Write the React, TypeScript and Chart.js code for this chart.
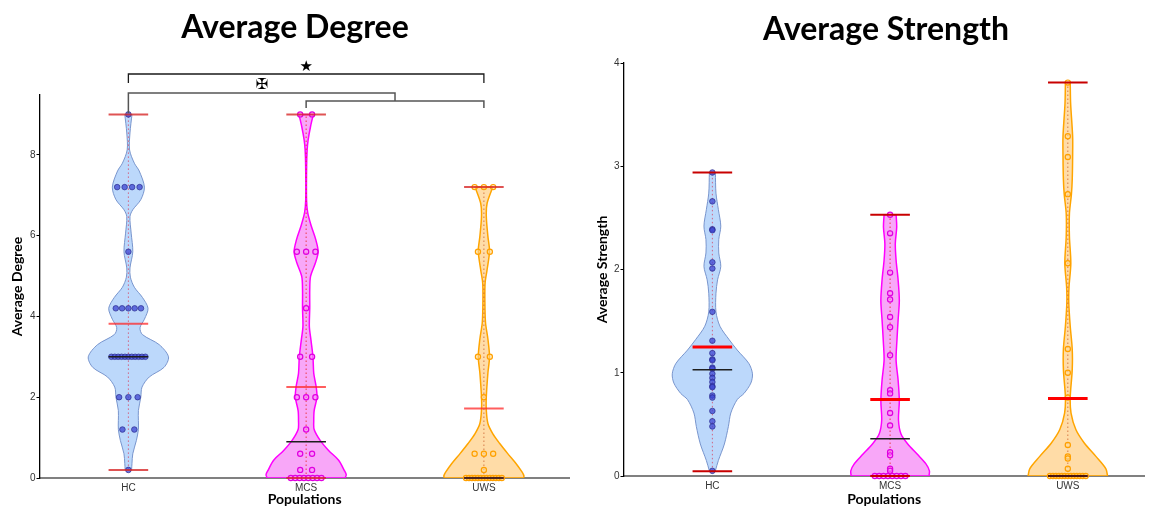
import React, { useEffect, useRef } from 'react';
import { Chart, registerables } from 'chart.js';

Chart.register(...registerables);

// ---------------- data ----------------
const categories = ['HC', 'MCS', 'UWS'];
const degreeTicks = [0, 2, 4, 6, 8];
const strengthTicks = [0, 1, 2, 3, 4];

const degreeHC = [9, 7.2, 7.2, 7.2, 7.2, 5.6, 4.2, 4.2, 4.2, 4.2, 4.2, 3, 3, 3, 3, 3, 3, 3, 3, 3, 3, 3, 2, 2, 2, 1.2, 1.2, 0.2];
const degreeMCS = [9, 9, 5.6, 5.6, 5.6, 4.2, 3, 3, 2, 2, 2, 1.2, 0.6, 0.6, 0.2, 0.2, 0, 0, 0, 0, 0, 0, 0, 0];
const degreeUWS = [7.2, 7.2, 7.2, 5.6, 5.6, 3, 3, 2, 0.6, 0.6, 0.6, 0.2, 0, 0, 0, 0, 0, 0, 0, 0, 0, 0, 0, 0, 0];

const strengthHC = [2.94, 2.66, 2.39, 2.38, 2.07, 2.01, 1.59, 1.31, 1.19, 1.13, 1.12, 1.05, 1.04, 0.99, 0.95, 0.91, 0.87, 0.86, 0.78, 0.76, 0.63, 0.53, 0.48, 0.05];
const strengthMCS = [2.53, 2.35, 1.97, 1.77, 1.71, 1.54, 1.44, 1.17, 0.83, 0.8, 0.61, 0.49, 0.23, 0.2, 0.07, 0.05, 0, 0, 0, 0, 0, 0, 0, 0];
const strengthUWS = [3.81, 3.29, 3.09, 2.73, 2.06, 1.23, 1.0, 0.76, 0.3, 0.19, 0.17, 0.07, 0, 0, 0, 0, 0, 0, 0, 0, 0, 0, 0, 0, 0];

// summary lines: [HC, MCS, UWS]
const degreeMax = [9, 9, 7.2];
const degreeMin = [0.2, 0, 0];
const degreeMean = [3.82, 2.25, 1.72];
const degreeMedian = [3.0, 0.9, 0];
const strengthMax = [2.94, 2.53, 3.81];
const strengthMin = [0.045, 0, 0];
const strengthMean = [1.25, 0.74, 0.75];
const strengthMedian = [1.03, 0.36, 0];

// violin density profiles (relative width), top to bottom
const degreeHCLevels = [9.0, 8.54, 8.12, 7.79, 7.6, 7.2, 6.89, 6.64, 6.47, 6.06, 5.6, 5.2, 4.97, 4.72, 4.47, 4.2, 3.93, 3.72, 3.55, 3.3, 3.0, 2.74, 2.5, 2.25, 2.0, 1.67, 1.42, 1.2, 0.93, 0.6, 0.36, 0.2];
const degreeHCDensity = [0.09, 0.04, 0.03, 0.15, 0.27, 0.4, 0.31, 0.11, 0.04, 0.07, 0.11, 0.04, 0.05, 0.15, 0.35, 0.49, 0.4, 0.29, 0.35, 0.77, 1.0, 0.89, 0.52, 0.34, 0.31, 0.25, 0.25, 0.25, 0.2, 0.11, 0.09, 0.08];
const degreeMCSLevels = [9.0, 8.7, 8.37, 8.12, 7.71, 6.89, 6.56, 6.23, 5.9, 5.6, 5.32, 4.99, 4.66, 4.2, 3.75, 3.42, 3.0, 2.59, 2.26, 2.0, 1.67, 1.42, 1.2, 0.93, 0.68, 0.44, 0.19, 0.08, 0.0];
const degreeMCSDensity = [0.18, 0.11, 0.05, 0.025, 0.012, 0.01, 0.04, 0.13, 0.24, 0.3, 0.23, 0.11, 0.09, 0.09, 0.08, 0.12, 0.17, 0.19, 0.25, 0.27, 0.2, 0.19, 0.2, 0.35, 0.56, 0.81, 0.95, 1.0, 0.97];
const degreeUWSLevels = [7.2, 6.8, 6.48, 5.98, 5.61, 5.16, 4.83, 4.34, 3.85, 3.44, 3.0, 2.6, 2.0, 1.68, 1.35, 1.1, 0.86, 0.61, 0.36, 0.15, 0.05, 0.0];
const degreeUWSDensity = [0.22, 0.08, 0.06, 0.1, 0.14, 0.08, 0.03, 0.025, 0.04, 0.1, 0.14, 0.1, 0.06, 0.06, 0.1, 0.22, 0.39, 0.59, 0.8, 0.95, 1.0, 0.98];

const strengthHCLevels = [2.94, 2.74, 2.58, 2.42, 2.29, 2.16, 2.03, 1.9, 1.77, 1.59, 1.45, 1.32, 1.22, 1.09, 0.99, 0.9, 0.8, 0.74, 0.61, 0.48, 0.31, 0.15, 0.05];
const strengthHCDensity = [0.075, 0.09, 0.15, 0.21, 0.16, 0.16, 0.21, 0.13, 0.09, 0.09, 0.19, 0.42, 0.62, 0.91, 1.0, 0.96, 0.79, 0.62, 0.46, 0.4, 0.3, 0.15, 0.075];
const strengthMCSLevels = [2.53, 2.41, 2.25, 2.09, 1.9, 1.7, 1.51, 1.31, 1.12, 0.93, 0.73, 0.54, 0.41, 0.31, 0.21, 0.12, 0.05, 0.0];
const strengthMCSDensity = [0.15, 0.165, 0.13, 0.15, 0.2, 0.23, 0.2, 0.17, 0.15, 0.2, 0.23, 0.21, 0.27, 0.44, 0.68, 0.89, 0.98, 0.97];
const strengthUWSLevels = [3.81, 3.61, 3.29, 3.09, 2.87, 2.73, 2.54, 2.32, 2.06, 1.83, 1.67, 1.45, 1.23, 1.03, 0.76, 0.61, 0.45, 0.32, 0.19, 0.07, 0.0];
const strengthUWSDensity = [0.06, 0.07, 0.12, 0.12, 0.11, 0.09, 0.04, 0.04, 0.075, 0.03, 0.025, 0.06, 0.11, 0.11, 0.06, 0.08, 0.2, 0.41, 0.7, 0.95, 0.99];

// significance annotations (left panel)
const bracketStart = [1, 1];
const bracketEnd = [3, 2.5];
const bracketLevel = [10.0, 9.53];
const bracketStartDrop = [9.78, 9.03];
const bracketEndDrop = [9.78, 9.33];
const bracketMark = ['★', '✠'];
const bracketMarkLevel = [10.17, 9.73];
const subBracket = [2, 3];
const subBracketLevel = 9.33;
const subBracketDrop = 9.16;

// ---------------- styling constants ----------------
const PX_PER_UNIT = 179.5;
const VIOLIN_HALF = 40.5 / PX_PER_UNIT;
const BAR_HALF = 20 / PX_PER_UNIT;

const groupStyle = [
  { fill: 'rgba(160,200,250,0.7)', edge: 'rgba(110,140,200,0.9)', edgeW: 1, whisker: 'rgba(215,60,90,0.75)', dotBg: 'rgba(60,70,210,0.75)', dotBorder: 'rgba(40,40,140,0.85)', dotR: 2.8, dotBW: 0.8 },
  { fill: 'rgba(245,130,245,0.7)', edge: '#ff00ff', edgeW: 1.5, whisker: 'rgba(230,40,40,0.85)', dotBg: 'rgba(255,140,255,0.55)', dotBorder: '#e000e0', dotR: 2.6, dotBW: 1.2 },
  { fill: 'rgba(255,205,130,0.7)', edge: '#ffa500', edgeW: 1.5, whisker: 'rgba(200,90,40,0.75)', dotBg: 'rgba(255,220,150,0.55)', dotBorder: '#ffa000', dotR: 2.6, dotBW: 1.2 },
];

// ---------------- helpers ----------------
function violinOutline(c: number, levels: number[], dens: number[]) {
  const n = levels.length;
  const pts: { x: number; y: number }[] = [];
  for (let i = n - 1; i >= 0; i--) pts.push({ x: c + VIOLIN_HALF * dens[i], y: levels[i] });
  pts.push({ x: c + VIOLIN_HALF * dens[0], y: levels[0] });
  pts.push({ x: c - VIOLIN_HALF * dens[0], y: levels[0] });
  for (let i = 0; i < n; i++) pts.push({ x: c - VIOLIN_HALF * dens[i], y: levels[i] });
  pts.push({ x: c - VIOLIN_HALF * dens[n - 1], y: levels[n - 1] });
  pts.push({ x: c + VIOLIN_HALF * dens[n - 1], y: levels[n - 1] });
  return pts;
}

function spreadPoints(values: number[], c: number) {
  const counts = new Map<number, number>();
  values.forEach((v) => counts.set(v, (counts.get(v) || 0) + 1));
  const seen = new Map<number, number>();
  return values.map((v) => {
    const n = counts.get(v) || 1;
    const k = seen.get(v) || 0;
    seen.set(v, k + 1);
    if (n === 1) return { x: c, y: v };
    const span = 12 + 9.7 * Math.log(n - 1);
    const step = span / (n - 1);
    return { x: c + ((k - (n - 1) / 2) * step) / PX_PER_UNIT, y: v };
  });
}

function hLine(c: number, v: number, color: string, width: number, order: number) {
  return {
    type: 'line',
    data: [{ x: c - BAR_HALF, y: v }, { x: c + BAR_HALF, y: v }],
    borderColor: color,
    borderWidth: width,
    pointRadius: 0,
    fill: false,
    order,
    clip: false,
  };
}

const titlePlugin = {
  id: 'panelTitle',
  afterDraw(chart: any, _args: any, opts: any) {
    const ctx = chart.ctx;
    ctx.save();
    ctx.font = 'bold 32px Lato';
    ctx.fillStyle = '#000';
    ctx.textAlign = 'center';
    ctx.textBaseline = 'middle';
    ctx.fillText(opts.text, opts.x, opts.y);
    ctx.restore();
  },
};

const sigPlugin = {
  id: 'sigBrackets',
  afterDraw(chart: any) {
    const { ctx } = chart;
    const xs = chart.scales.x;
    const ys = chart.scales.y;
    const px = (v: number) => xs.getPixelForValue(v);
    const py = (v: number) => ys.getPixelForValue(v);
    ctx.save();
    bracketStart.forEach((s, i) => {
      ctx.beginPath();
      ctx.strokeStyle = i === 0 ? '#1a1a1a' : '#555';
      ctx.lineWidth = i === 0 ? 1.3 : 1.5;
      ctx.moveTo(px(s), py(bracketStartDrop[i]));
      ctx.lineTo(px(s), py(bracketLevel[i]));
      ctx.lineTo(px(bracketEnd[i]), py(bracketLevel[i]));
      ctx.lineTo(px(bracketEnd[i]), py(bracketEndDrop[i]));
      ctx.stroke();
    });
    ctx.beginPath();
    ctx.strokeStyle = '#555';
    ctx.lineWidth = 1.5;
    ctx.moveTo(px(subBracket[0]), py(subBracketDrop));
    ctx.lineTo(px(subBracket[0]), py(subBracketLevel));
    ctx.lineTo(px(subBracket[1]), py(subBracketLevel));
    ctx.lineTo(px(subBracket[1]), py(subBracketDrop));
    ctx.stroke();
    ctx.fillStyle = '#000';
    ctx.textAlign = 'center';
    ctx.textBaseline = 'middle';
    bracketMark.forEach((m, i) => {
      ctx.font = i === 0 ? '15px "DejaVu Sans"' : 'bold 15px "DejaVu Sans"';
      const cx = (bracketStart[i] + bracketEnd[i]) / 2;
      ctx.fillText(m, px(cx), py(bracketMarkLevel[i]));
    });
    ctx.restore();
  },
};

type Group = { values: number[]; levels: number[]; dens: number[]; max: number; min: number; mean: number; median: number };

function buildConfig(p: any) {
  const datasets: any[] = [];
  p.groups.forEach((g: Group, i: number) => {
    const c = i + 1;
    const st = groupStyle[i];
    datasets.push({
      type: 'line',
      data: violinOutline(c, g.levels, g.dens),
      borderColor: st.edge,
      borderWidth: st.edgeW,
      backgroundColor: st.fill,
      fill: 'shape',
      tension: 0.3,
      pointRadius: 0,
      order: 6,
    });
    datasets.push({
      type: 'line',
      data: [{ x: c, y: g.min }, { x: c, y: g.max }],
      borderColor: st.whisker,
      borderWidth: 1,
      borderDash: [1.5, 2.5],
      pointRadius: 0,
      fill: false,
      order: 5,
    });
    datasets.push({
      type: 'scatter',
      data: spreadPoints(g.values, c),
      pointRadius: st.dotR,
      pointBackgroundColor: st.dotBg,
      pointBorderColor: st.dotBorder,
      pointBorderWidth: st.dotBW,
      order: 4,
      clip: false,
    });
    datasets.push(hLine(c, g.max, p.extremeColor, 2, 3));
    datasets.push(hLine(c, g.min, p.extremeColor, 2, 3));
    datasets.push(hLine(c, g.median, '#1e1e1e', 1.5, 2));
    datasets.push(hLine(c, g.mean, p.meanColor, p.meanWidth, 1));
  });

  const tickFont = { family: '"Liberation Sans", Arial, sans-serif', size: 10 };
  const titleFont = { family: 'Lato', size: 14, weight: 'bold' as const };

  return {
    type: 'scatter',
    data: { datasets },
    plugins: p.plugins,
    options: {
      responsive: false,
      animation: false,
      events: [],
      layout: { padding: { top: p.top, left: 0, right: 0, bottom: 0 } },
      plugins: {
        legend: { display: false },
        tooltip: { enabled: false },
        title: { display: false },
        panelTitle: { text: p.title, x: p.titleX, y: p.titleY },
      },
      scales: {
        x: {
          type: 'linear',
          min: 0.5,
          max: p.xMax,
          afterBuildTicks: (s: any) => {
            s.ticks = categories.map((_, k) => ({ value: k + 1 }));
          },
          afterFit: (s: any) => {
            s.height = p.xAxisHeight;
          },
          ticks: {
            callback: (v: any) => categories[Math.round(v) - 1] ?? '',
            font: tickFont,
            color: '#333',
            padding: 4,
            maxRotation: 0,
          },
          grid: { display: false, drawTicks: false },
          border: { display: true, color: '#808080', width: 2 },
          title: { display: true, text: 'Populations', font: titleFont, color: '#000', padding: { top: 0, bottom: 0 } },
        },
        y: {
          type: 'linear',
          min: 0,
          max: p.yMax,
          afterBuildTicks: (s: any) => {
            s.ticks = p.yTicks.map((v: number) => ({ value: v }));
          },
          afterFit: (s: any) => {
            s.width = p.yAxisWidth;
          },
          ticks: { font: tickFont, color: '#333', padding: 1 },
          grid: { display: true, drawOnChartArea: false, drawTicks: true, tickLength: 3, color: '#000', lineWidth: 1 },
          border: { display: true, color: '#000', width: 1.3 },
          title: { display: true, text: p.yTitle, font: titleFont, color: '#000', padding: { top: p.yTitlePad, bottom: 0 } },
        },
      },
    },
  };
}

const leftPanel = {
  title: 'Average Degree',
  titleX: 295,
  titleY: 28,
  yTitle: 'Average Degree',
  yTitlePad: 9,
  top: 95,
  yMax: 9.48,
  yTicks: degreeTicks,
  xMax: 0.5 + (575 - 39.5) / PX_PER_UNIT,
  yAxisWidth: 39.5,
  xAxisHeight: 30,
  extremeColor: 'rgba(215,40,40,0.8)',
  meanColor: 'rgba(255,40,40,0.75)',
  meanWidth: 2,
  plugins: [titlePlugin, sigPlugin],
  groups: [
    { values: degreeHC, levels: degreeHCLevels, dens: degreeHCDensity, max: degreeMax[0], min: degreeMin[0], mean: degreeMean[0], median: degreeMedian[0] },
    { values: degreeMCS, levels: degreeMCSLevels, dens: degreeMCSDensity, max: degreeMax[1], min: degreeMin[1], mean: degreeMean[1], median: degreeMedian[1] },
    { values: degreeUWS, levels: degreeUWSLevels, dens: degreeUWSDensity, max: degreeMax[2], min: degreeMin[2], mean: degreeMean[2], median: degreeMedian[2] },
  ],
};

const rightPanel = {
  title: 'Average Strength',
  titleX: 311,
  titleY: 30,
  yTitle: 'Average Strength',
  yTitlePad: 19,
  top: 63,
  yMax: 4,
  yTicks: strengthTicks,
  xMax: 0.5 + (575 - 48.5) / PX_PER_UNIT,
  yAxisWidth: 48.5,
  xAxisHeight: 32,
  extremeColor: '#c80000',
  meanColor: '#ff0000',
  meanWidth: 3,
  plugins: [titlePlugin],
  groups: [
    { values: strengthHC, levels: strengthHCLevels, dens: strengthHCDensity, max: strengthMax[0], min: strengthMin[0], mean: strengthMean[0], median: strengthMedian[0] },
    { values: strengthMCS, levels: strengthMCSLevels, dens: strengthMCSDensity, max: strengthMax[1], min: strengthMin[1], mean: strengthMean[1], median: strengthMedian[1] },
    { values: strengthUWS, levels: strengthUWSLevels, dens: strengthUWSDensity, max: strengthMax[2], min: strengthMin[2], mean: strengthMean[2], median: strengthMedian[2] },
  ],
};

export default function App() {
  const leftRef = useRef<HTMLCanvasElement>(null);
  const rightRef = useRef<HTMLCanvasElement>(null);

  useEffect(() => {
    if (!leftRef.current || !rightRef.current) return;
    const c1 = new Chart(leftRef.current, buildConfig(leftPanel) as any);
    const c2 = new Chart(rightRef.current, buildConfig(rightPanel) as any);
    return () => {
      c1.destroy();
      c2.destroy();
    };
  }, []);

  return (
    <div style={{ position: 'fixed', left: 0, top: 0, width: 1150, height: 508, background: '#fff', overflow: 'hidden' }}>
      <canvas ref={leftRef} width={575} height={508} style={{ position: 'absolute', left: 0, top: 0 }} />
      <canvas ref={rightRef} width={575} height={508} style={{ position: 'absolute', left: 575, top: 0 }} />
    </div>
  );
}
